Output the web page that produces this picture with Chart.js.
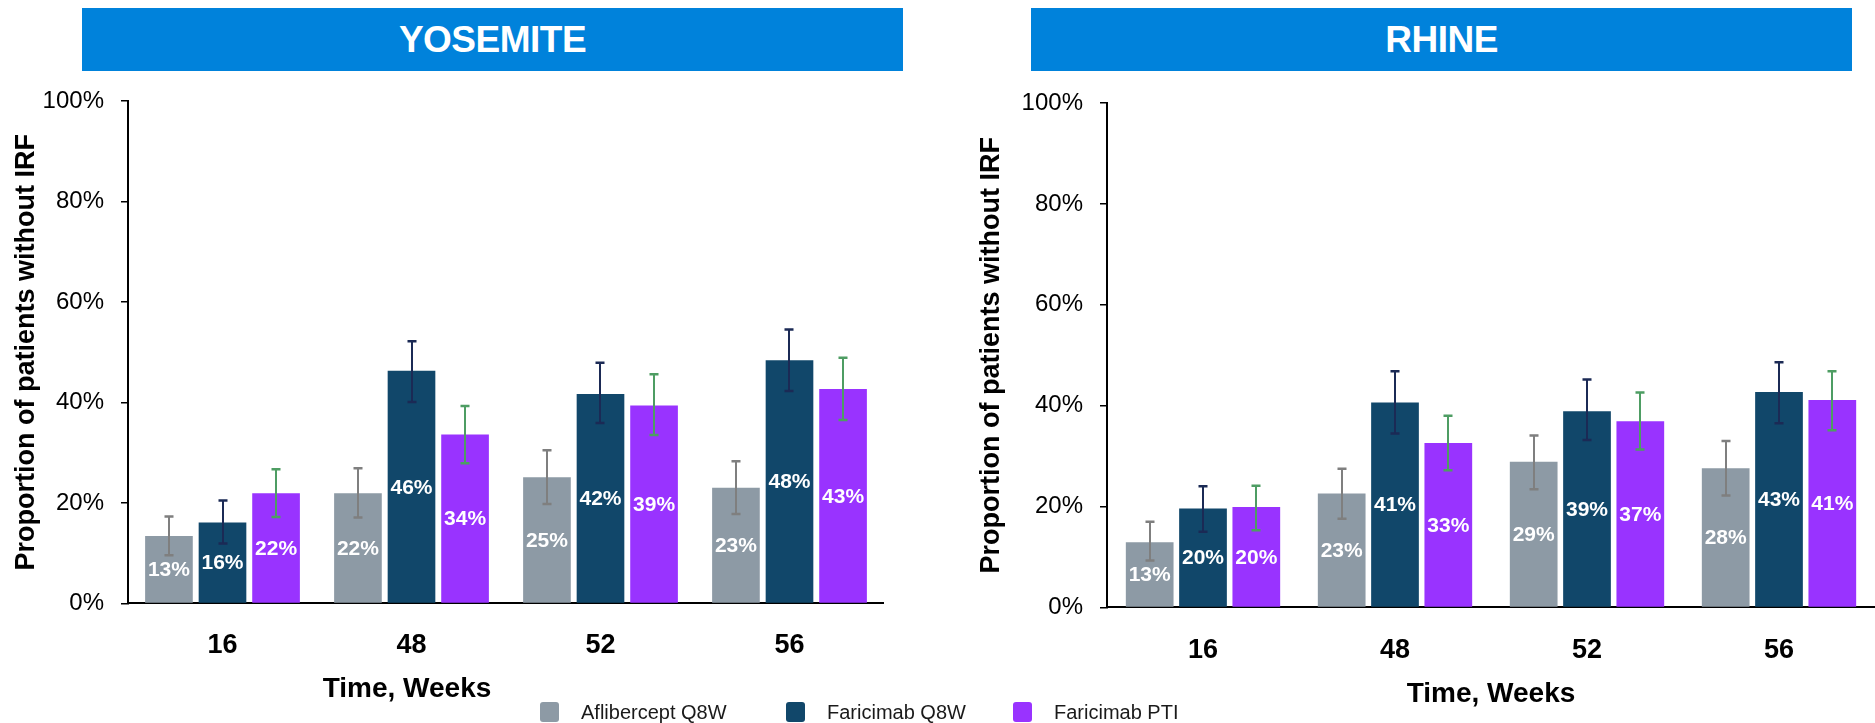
<!DOCTYPE html>
<html>
<head>
<meta charset="utf-8">
<script src="https://cdn.jsdelivr.net/npm/chart.js@4/dist/chart.umd.min.js"></script>
<style>
  html, body { margin: 0; padding: 0; }
  body { width: 1875px; height: 723px; background: #fff; position: relative; overflow: hidden;
         font-family: 'Liberation Sans', Arial, sans-serif; }
  .banner { position: absolute; top: 8px; height: 63px; background: #0082db; color: #fff;
            font-weight: bold; font-size: 37px; display: flex; align-items: center; justify-content: center;
            z-index: 2; letter-spacing: -0.5px; }
  .wrap { position: absolute; top: 0; height: 723px; z-index: 1; }
  .legend-item { position: absolute; top: 702px; height: 20px; display: flex; align-items: center; z-index: 2;
                 font-size: 20px; color: #1a1a1a; white-space: nowrap; }
  .legend-item i { display: inline-block; width: 19px; height: 20px; border-radius: 3px; margin-right: 22px; }
</style>
</head>
<body>
<div class="banner" style="left:82px; width:821px;">YOSEMITE</div>
<div class="banner" style="left:1031px; width:821px;">RHINE</div>

<div class="wrap" style="left:-70px; width:954px;"><canvas id="yosemite" width="954" height="723"></canvas></div>
<div class="wrap" style="left:960px; width:915px;"><canvas id="rhine" width="915" height="723"></canvas></div>

<div class="legend-item" style="left:540px;"><i style="background:#8d9aa5"></i>Aflibercept Q8W</div>
<div class="legend-item" style="left:786px;"><i style="background:#11476a"></i>Faricimab Q8W</div>
<div class="legend-item" style="left:1013px;"><i style="background:#9933ff"></i>Faricimab PTI</div>

<script>
// Time points and treatment arms
const weeks = ['16', '48', '52', '56'];
const armNames = ['Aflibercept Q8W', 'Faricimab Q8W', 'Faricimab PTI'];
const yTicks = [0, 20, 40, 60, 80, 100];

// YOSEMITE: proportion without IRF (%) with 95% CI bounds
const yosAfli = [13.4, 21.9, 25.1, 23.0];
const yosAfliLow = [9.6, 17.1, 19.8, 17.8];
const yosAfliHigh = [17.3, 26.9, 30.5, 28.3];
const yosFariQ8 = [16.1, 46.3, 41.7, 48.4];
const yosFariQ8Low = [11.9, 40.1, 35.9, 42.3];
const yosFariQ8High = [20.5, 52.2, 47.9, 54.5];
const yosFariPti = [21.9, 33.6, 39.4, 42.7];
const yosFariPtiLow = [17.2, 27.9, 33.5, 36.5];
const yosFariPtiHigh = [26.7, 39.3, 45.6, 48.9];

// RHINE: proportion without IRF (%) with 95% CI bounds
const rhiAfli = [12.9, 22.6, 28.9, 27.6];
const rhiAfliLow = [9.3, 17.6, 23.4, 22.2];
const rhiAfliHigh = [17.0, 27.5, 34.1, 33.0];
const rhiFariQ8 = [19.6, 40.6, 38.9, 42.7];
const rhiFariQ8Low = [15.0, 34.5, 33.2, 36.5];
const rhiFariQ8High = [24.0, 46.8, 45.2, 48.6];
const rhiFariPti = [19.9, 32.6, 36.9, 41.1];
const rhiFariPtiLow = [15.3, 27.2, 31.3, 35.1];
const rhiFariPtiHigh = [24.1, 38.0, 42.6, 46.8];

const barColors = ['#8d9aa5', '#11476a', '#9933ff'];
const whiskerColors = ['#7f7f7f', '#1b2a55', '#4e9d63'];

Chart.defaults.font.family = "'Liberation Sans', Arial, sans-serif";
Chart.defaults.color = '#000';

// Confidence-interval whiskers drawn on top of each bar
const errorBars = {
  id: 'errorBars',
  afterDatasetsDraw(chart) {
    const ctx = chart.ctx;
    const y = chart.scales.y;
    chart.data.datasets.forEach((ds, i) => {
      const meta = chart.getDatasetMeta(i);
      ctx.save();
      ctx.strokeStyle = ds.whiskerColor;
      meta.data.forEach((bar, j) => {
        const yLo = y.getPixelForValue(ds.ciLow[j]);
        const yHi = y.getPixelForValue(ds.ciHigh[j]);
        const x = Math.round(bar.x);
        ctx.lineWidth = 2;
        ctx.beginPath();
        ctx.moveTo(x, yLo); ctx.lineTo(x, yHi);
        ctx.stroke();
        ctx.lineWidth = 2.5;
        ctx.beginPath();
        ctx.moveTo(x - 4.5, yHi); ctx.lineTo(x + 4.5, yHi);
        ctx.moveTo(x - 4.5, yLo); ctx.lineTo(x + 4.5, yLo);
        ctx.stroke();
      });
      ctx.restore();
    });
  }
};

// Percentage written in the middle of each bar
const barLabels = {
  id: 'barLabels',
  afterDatasetsDraw(chart) {
    const ctx = chart.ctx;
    ctx.save();
    ctx.font = "bold 21px 'Liberation Sans', Arial, sans-serif";
    ctx.fillStyle = '#fff';
    ctx.textAlign = 'center';
    ctx.textBaseline = 'middle';
    chart.data.datasets.forEach((ds, i) => {
      chart.getDatasetMeta(i).data.forEach((bar, j) => {
        const v = ds.data[j];
        ctx.fillText(Math.round(v) + '%', bar.x, (bar.y + bar.base) / 2 + 1);
      });
    });
    ctx.restore();
  }
};

function buildChart(id, series, opt) {
  const datasets = series.map((s, i) => ({
    label: armNames[i],
    data: s.values,
    ciLow: s.low,
    ciHigh: s.high,
    whiskerColor: whiskerColors[i],
    backgroundColor: barColors[i],
    borderWidth: 0,
    categoryPercentage: opt.catPct,
    barPercentage: opt.barPct
  }));
  return new Chart(document.getElementById(id), {
    type: 'bar',
    data: { labels: weeks, datasets },
    plugins: [errorBars, barLabels],
    options: {
      responsive: false,
      animation: false,
      layout: { padding: { top: opt.top, bottom: 0, left: 0, right: 0 } },
      plugins: {
        legend: { display: false },
        tooltip: { enabled: false },
        title: {
          display: true,
          position: 'bottom',
          text: 'Time, Weeks',
          fullSize: opt.titleFull,
          color: '#000',
          font: { size: 28, weight: 'bold' },
          padding: { top: opt.titleTop, bottom: opt.titleBottom }
        }
      },
      scales: {
        x: {
          afterFit: s => { s.height = 60; },
          grid: { display: false },
          border: { display: true, color: '#000', width: 2 },
          ticks: { color: '#000', padding: opt.xPad, font: { size: 27, weight: 'bold' } }
        },
        y: {
          min: 0,
          max: 100,
          afterFit: s => { s.width = opt.yWidth; },
          afterBuildTicks: s => { s.ticks = yTicks.map(v => ({ value: v })); },
          grid: { display: true, drawOnChartArea: false, drawTicks: true, tickLength: 7,
                  color: '#000', tickColor: '#000', lineWidth: 1.5 },
          border: { display: true, color: '#000', width: 2 },
          ticks: { color: '#000', padding: 17, font: { size: 24 }, callback: v => v + '%' },
          title: {
            display: true,
            text: 'Proportion of patients without IRF',
            color: '#000',
            font: { size: 27, weight: 'bold' },
            padding: { top: opt.yTitleTop, bottom: 0 }
          }
        }
      }
    }
  });
}

buildChart('yosemite', [
  { values: yosAfli, low: yosAfliLow, high: yosAfliHigh },
  { values: yosFariQ8, low: yosFariQ8Low, high: yosFariQ8High },
  { values: yosFariPti, low: yosFariPtiLow, high: yosFariPtiHigh }
], { top: 101, yWidth: 198, yTitleTop: 80, xPad: 18, titleTop: 9, titleBottom: 17,
     titleFull: true, catPct: 0.85, barPct: 0.89 });

buildChart('rhine', [
  { values: rhiAfli, low: rhiAfliLow, high: rhiAfliHigh },
  { values: rhiFariQ8, low: rhiFariQ8Low, high: rhiFariQ8High },
  { values: rhiFariPti, low: rhiFariPtiLow, high: rhiFariPtiHigh }
], { top: 103, yWidth: 147, yTitleTop: 15, xPad: 19, titleTop: 10, titleBottom: 12,
     titleFull: false, catPct: 0.833, barPct: 0.895 });
</script>
</body>
</html>
